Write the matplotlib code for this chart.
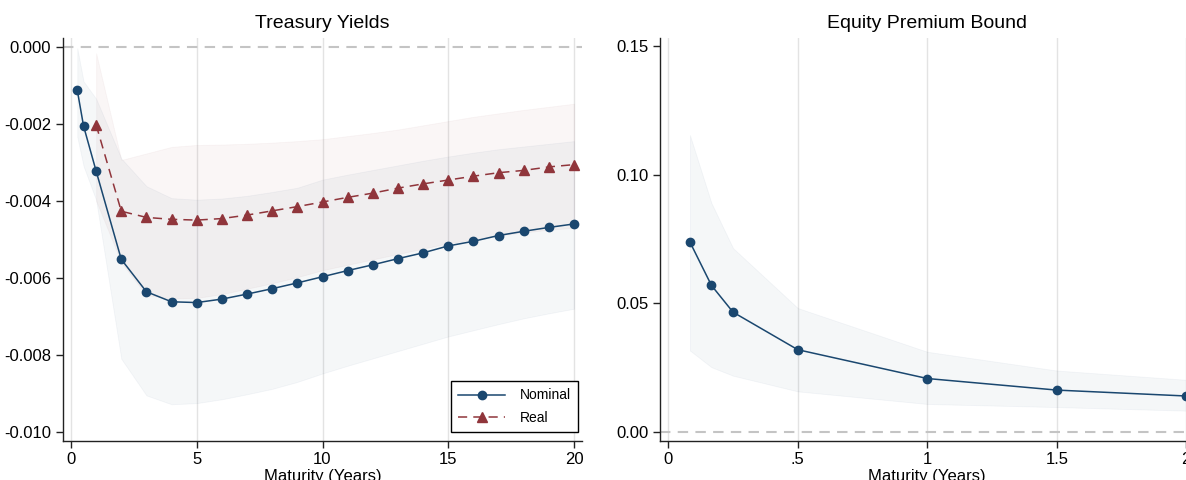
import matplotlib
matplotlib.use("Agg")
import matplotlib.pyplot as plt

plt.rcParams['font.family'] = ['Liberation Sans', 'DejaVu Sans']
plt.rcParams['axes.unicode_minus'] = False

# Treasury yields (left panel)
nom_x = [0.25, 0.5, 1, 2, 3, 4, 5, 6, 7, 8, 9, 10, 11, 12, 13, 14, 15, 16, 17, 18, 19, 20]
nom_y = [-0.00113, -0.00206, -0.00323, -0.00552, -0.00636, -0.00662, -0.00664, -0.00655,
         -0.00642, -0.00628, -0.00613, -0.00597, -0.00581, -0.00566, -0.0055, -0.00535,
         -0.00517, -0.00505, -0.0049, -0.00479, -0.00469, -0.0046]
nom_hi = [-0.00004, -0.0009, -0.00135, -0.0029, -0.00362, -0.00393, -0.00397, -0.00394,
          -0.00387, -0.00377, -0.00366, -0.00345, -0.00332, -0.0032, -0.00308, -0.00296,
          -0.00285, -0.00275, -0.00266, -0.00259, -0.00252, -0.00245]
nom_lo = [-0.00234, -0.0031, -0.00398, -0.0081, -0.00905, -0.00928, -0.00925, -0.00915,
          -0.00902, -0.00888, -0.00870, -0.00848, -0.00828, -0.00809, -0.0079, -0.00771,
          -0.00752, -0.00736, -0.0072, -0.00705, -0.00692, -0.0068]

real_x = [1, 2, 3, 4, 5, 6, 7, 8, 9, 10, 11, 12, 13, 14, 15, 16, 17, 18, 19, 20]
real_y = [-0.00203, -0.00427, -0.00443, -0.00448, -0.0045, -0.00446, -0.00437, -0.00426,
          -0.00415, -0.00403, -0.00391, -0.0038, -0.00367, -0.00356, -0.00346, -0.00336,
          -0.00327, -0.00321, -0.00312, -0.00306]
real_hi = [-0.00017, -0.00294, -0.00277, -0.0026, -0.00255, -0.00254, -0.00252, -0.00249,
           -0.00245, -0.0024, -0.00232, -0.00224, -0.00215, -0.00204, -0.00193, -0.00182,
           -0.00173, -0.00164, -0.00156, -0.00148]
real_lo = [-0.0040, -0.0056, -0.00645, -0.00653, -0.00652, -0.00642, -0.00628, -0.00614,
           -0.00598, -0.0058, -0.00566, -0.00552, -0.00538, -0.00524, -0.0051, -0.005,
           -0.0049, -0.00482, -0.00475, -0.0047]

left_yticks = [0.0, -0.002, -0.004, -0.006, -0.008, -0.010]
left_ylabels = ["0.000", "-0.002", "-0.004", "-0.006", "-0.008", "-0.010"]
left_xticks = [0, 5, 10, 15, 20]

# Equity premium bound (right panel)
eq_x = [1 / 12, 2 / 12, 0.25, 0.5, 1, 1.5, 2]
eq_y = [0.0738, 0.0569, 0.0465, 0.0319, 0.0207, 0.0162, 0.0139]
eq_hi = [0.1154, 0.0889, 0.0714, 0.0481, 0.0311, 0.0238, 0.0202]
eq_lo = [0.0316, 0.0251, 0.0218, 0.0157, 0.0108, 0.0096, 0.0082]

right_yticks = [0.0, 0.05, 0.10, 0.15]
right_ylabels = ["0.00", "0.05", "0.10", "0.15"]
right_xticks = [0, 0.5, 1, 1.5, 2]
right_xlabels = ["0", ".5", "1", "1.5", "2"]

NAVY = '#1a476f'
MAROON = '#90353b'
W, H = 1186, 480


def style_axes(ax):
    for side in ['top', 'right']:
        ax.spines[side].set_visible(False)
    for side in ['left', 'bottom']:
        ax.spines[side].set_linewidth(1.0)
        ax.spines[side].set_color('#222222')
    ax.grid(axis='x', color='#e3e3e3', lw=1.0)
    ax.grid(axis='y', visible=False)
    ax.set_axisbelow(True)
    ax.axhline(0, color='#c4c4c4', lw=1.5, ls=(0, (5, 3.5)), zorder=1)
    ax.tick_params(direction='out', length=5, width=1, labelsize=12, color='#222222')
    ax.set_xlabel('Maturity (Years)', fontsize=12, labelpad=1)


fig = plt.figure(figsize=(W / 100, H / 100), dpi=100)

# left panel
ax1 = fig.add_axes([62.7 / W, 1 - 440.5 / H, (582.3 - 62.7) / W, (440.5 - 38) / H])
ax1.fill_between(nom_x, nom_lo, nom_hi, color=NAVY, alpha=0.045, lw=0.6, zorder=2)
ax1.fill_between(real_x, real_lo, real_hi, color=MAROON, alpha=0.045, lw=0.6, zorder=2)
ax1.plot(nom_x, nom_y, color=NAVY, lw=1.1, marker='o', ms=6, label='Nominal', zorder=4)
ax1.plot(real_x, real_y, color=MAROON, lw=1.1, ls=(0, (6, 4)), marker='^', ms=7,
         label='Real', zorder=4)
ax1.set_xlim(-0.33, 20.33)
ax1.set_ylim(-0.01022, 0.000226)
ax1.set_xticks(left_xticks)
ax1.set_yticks(left_yticks)
ax1.set_yticklabels(left_ylabels)
style_axes(ax1)
ax1.set_title('Treasury Yields', fontsize=14, pad=7)
leg = ax1.legend(loc='lower right', bbox_to_anchor=(0.992, 0.02), borderaxespad=0,
                 fontsize=10, fancybox=False, edgecolor='black', framealpha=1,
                 handlelength=3.4, borderpad=0.55, labelspacing=0.6, handletextpad=1.0)
leg.get_frame().set_linewidth(1.0)

# right panel
ax2 = fig.add_axes([660 / W, 1 - 440.5 / H, 534.6 / W, (440.5 - 38) / H])
ax2.fill_between(eq_x, eq_lo, eq_hi, color=NAVY, alpha=0.045, lw=0.6, zorder=2)
ax2.plot(eq_x, eq_y, color=NAVY, lw=1.1, marker='o', ms=6, zorder=4, clip_on=False)
ax2.set_xlim(-0.032, 2.032)
ax2.set_ylim(-0.0034, 0.1531)
ax2.set_xticks(right_xticks)
ax2.set_xticklabels(right_xlabels)
ax2.set_yticks(right_yticks)
ax2.set_yticklabels(right_ylabels)
style_axes(ax2)
ax2.set_title('Equity Premium Bound', fontsize=14, pad=7)

fig.savefig('out.png', dpi=100)
